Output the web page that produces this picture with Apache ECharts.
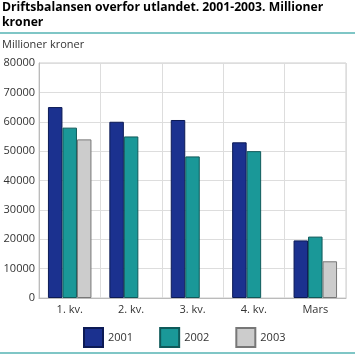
<!DOCTYPE html>
<html><head><meta charset="utf-8">
<script src="https://cdn.jsdelivr.net/npm/echarts@6/dist/echarts.min.js"></script>
<style>html,body{margin:0;padding:0;background:#fff}#c{width:355px;height:355px}</style>
</head><body><div id="c"></div>
<script>
var categories = ['1. kv.', '2. kv.', '3. kv.', '4. kv.', 'Mars'];
var yTicks = [0, 10000, 20000, 30000, 40000, 50000, 60000, 70000, 80000];
var s2001 = [65000, 60000, 60600, 53000, 19600];
var s2002 = [58000, 55000, 48200, 50000, 20900];
var s2003 = [54000, null, null, null, 12500];
var seriesNames = ['2001', '2002', '2003'];

var chart = echarts.init(document.getElementById('c'), null, {renderer: 'canvas'});
var font = '"Open Sans", sans-serif';
function bar(name, data, color, border) {
  return {
    name: name, type: 'bar', data: data, barWidth: 14.5, barGap: '0%',
    itemStyle: {color: color, borderColor: border, borderWidth: 1},
    emphasis: {disabled: true}
  };
}
chart.setOption({
  animation: false,
  textStyle: {fontFamily: font},
  title: {
    text: 'Driftsbalansen overfor utlandet. 2001-2003. Millioner\nkroner',
    left: 2, top: 0, padding: [0, 0, 0, 0],
    textStyle: {fontFamily: font, fontWeight: 'bold', fontSize: 12.2, lineHeight: 15, color: '#000'}
  },
  graphic: [
    {type: 'rect', shape: {x: 0, y: 32, width: 355, height: 2}, style: {fill: '#7fc6c6'}, silent: true},
    {type: 'rect', shape: {x: 0, y: 352, width: 355, height: 2}, style: {fill: '#7fc6c6'}, silent: true},
    {type: 'text', left: 2, top: 39, style: {text: 'Millioner kroner', font: '11px "Open Sans", sans-serif', fill: '#333'}}
  ],
  grid: {left: 39, right: 9, top: 63, bottom: 57, show: true, borderColor: '#ccc', borderWidth: 1},
  legend: {
    bottom: 2, left: 78, itemWidth: 19, itemHeight: 19, itemGap: 26,
    data: seriesNames,
    textStyle: {fontFamily: font, fontSize: 11, color: '#333'},
    icon: 'rect'
  },
  xAxis: {
    type: 'category', data: categories,
    axisLine: {lineStyle: {color: '#bbb'}},
    axisTick: {show: false},
    splitLine: {show: true, lineStyle: {color: '#ddd'}},
    axisLabel: {color: '#333', fontSize: 11, margin: 6, fontFamily: font}
  },
  yAxis: {
    type: 'value', min: yTicks[0], max: yTicks[yTicks.length - 1], interval: 10000,
    axisLine: {show: true, lineStyle: {color: '#bbb'}},
    axisTick: {show: false},
    splitLine: {show: true, lineStyle: {color: '#ddd'}},
    axisLabel: {color: '#333', fontSize: 11, margin: 4, fontFamily: font, formatter: function (v) { return String(v); }}
  },
  series: [
    bar(seriesNames[0], s2001, '#1b318f', '#0c1a55'),
    bar(seriesNames[1], s2002, '#1a9898', '#0f5a5a'),
    bar(seriesNames[2], s2003, '#cccccc', '#777777')
  ]
});
</script></body></html>
